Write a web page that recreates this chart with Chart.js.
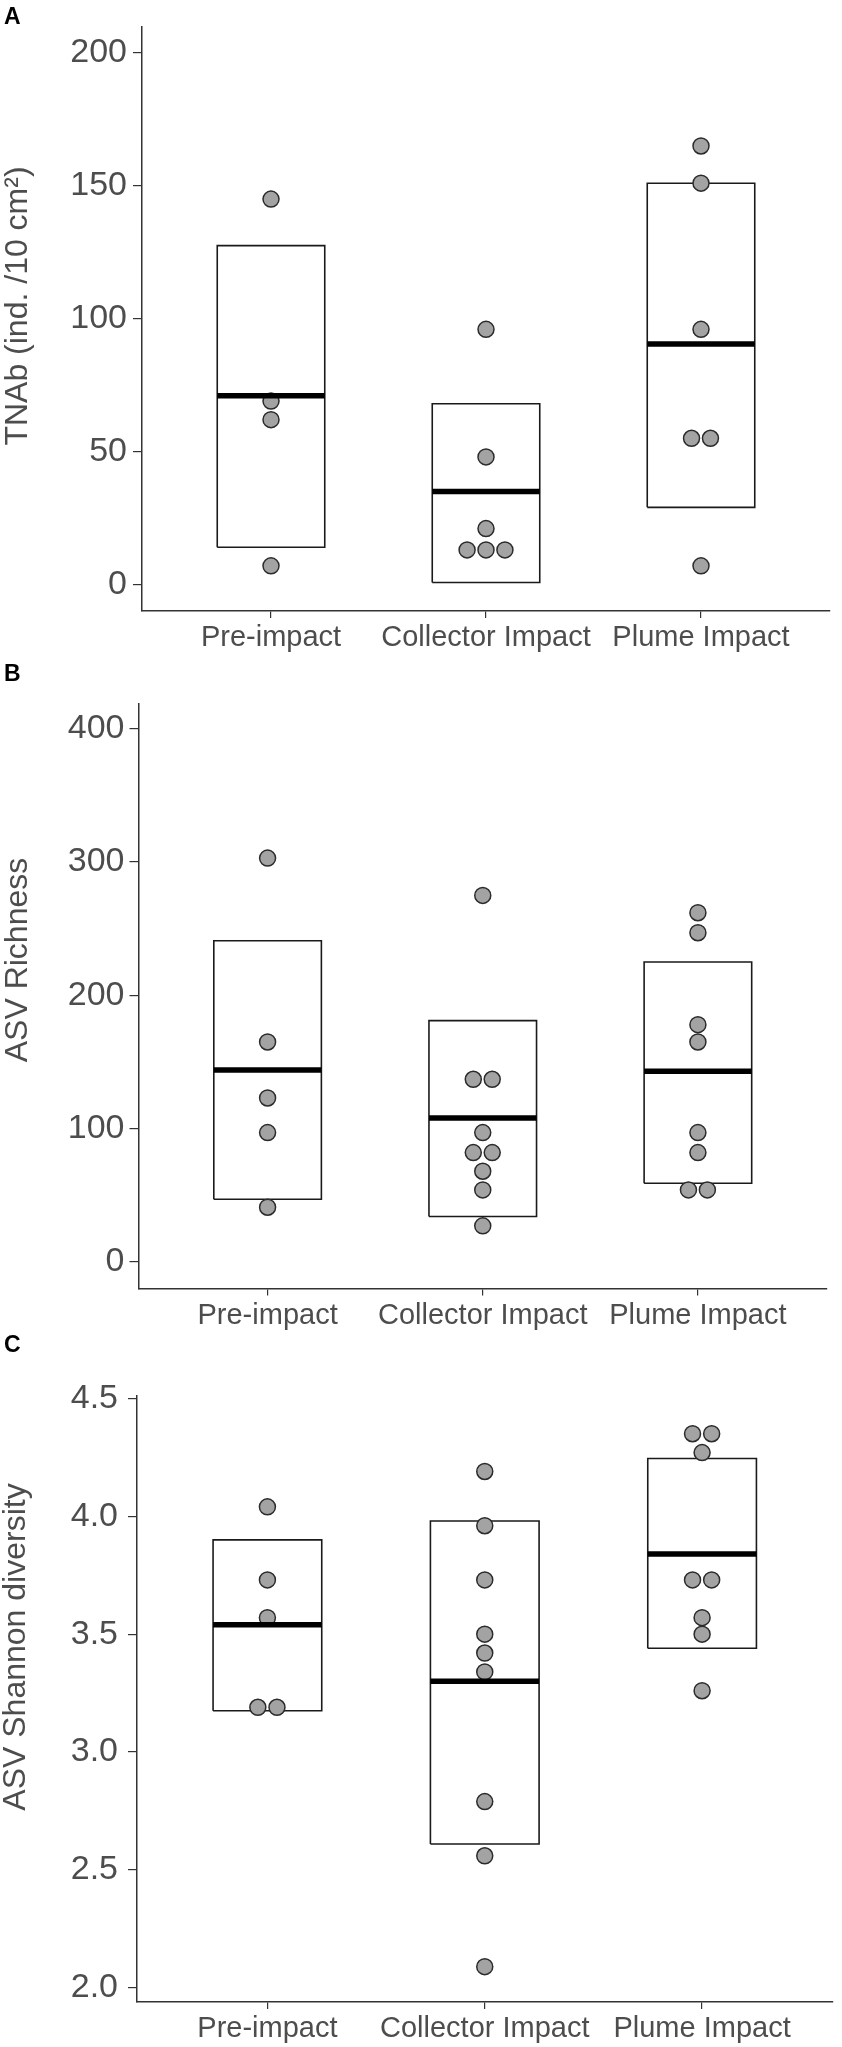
<!DOCTYPE html>
<html>
<head>
<meta charset="utf-8">
<title>TNAb, ASV richness and Shannon diversity</title>
<script src="https://cdn.jsdelivr.net/npm/chart.js@4.4.0/dist/chart.umd.min.js"></script>
<style>
  body { margin: 0; background: #fff; width: 842px; height: 2047px; position: relative; overflow: hidden; font-family: "Liberation Sans", Arial, sans-serif; }
  .panel { position: absolute; left: 0; width: 842px; }
  .tag { position: absolute; left: 4px; font-weight: bold; font-size: 23px; line-height: 1; color: #000; z-index: 5; }
</style>
</head>
<body>
<div class="panel" style="top:0px;height:680px"><canvas id="chartA"></canvas></div>
<div class="panel" style="top:660px;height:680px"><canvas id="chartB"></canvas></div>
<div class="panel" style="top:1330px;height:717px"><canvas id="chartC"></canvas></div>
<div class="tag" style="top:5px">A</div>
<div class="tag" style="top:662px">B</div>
<div class="tag" style="top:1333px">C</div>
<script>
const categories = ['Pre-impact', 'Collector Impact', 'Plume Impact'];

// A: total abundance, one value per sample
const tnabPre = [145, 69, 62, 7];
const tnabCollector = [96, 48, 21, 13, 13, 13];
const tnabPlume = [165, 151, 96, 55, 55, 7];
const tnabMean = [71, 35, 90.5];
const tnabLower = [14, 0.7, 29];
const tnabUpper = [127.5, 68, 151];
const tnabTicks = [0, 50, 100, 150, 200];

// B: ASV richness
const richPre = [303, 165, 123, 97, 41];
const richCollector = [275, 137, 137, 97, 82, 82, 68, 54, 27];
const richPlume = [262, 247, 178, 165, 97, 82, 54, 54];
const richMean = [144, 108, 143];
const richLower = [47, 34, 59];
const richUpper = [241, 181, 225];
const richTicks = [0, 100, 200, 300, 400];

// C: ASV Shannon diversity
const shanPre = [4.04, 3.73, 3.57, 3.19, 3.19];
const shanCollector = [4.19, 3.96, 3.73, 3.50, 3.42, 3.34, 2.79, 2.56, 2.09];
const shanPlume = [4.35, 4.35, 4.27, 3.73, 3.73, 3.57, 3.50, 3.26];
const shanMean = [3.54, 3.30, 3.84];
const shanLower = [3.175, 2.61, 3.44];
const shanUpper = [3.90, 3.98, 4.245];
const shanTicks = [2.0, 2.5, 3.0, 3.5, 4.0, 4.5];

const DOT_STEP = 0.088;   // horizontal spacing of stacked dots (x units)
const HALF_BOX = 0.25;
const TEXT = '#4d4d4d';
const AXIS = '#333';
const FONT = '"Liberation Sans", Arial, sans-serif';

// equal values sit side by side, centred on the category
function stackDots(values, cat) {
    const counts = {};
    values.forEach(v => counts[v] = (counts[v] || 0) + 1);
    const seen = {};
    return values.map(v => {
        const i = seen[v] = (seen[v] === undefined ? 0 : seen[v] + 1);
        return { x: cat + (i - (counts[v] - 1) / 2) * DOT_STEP, y: v };
    });
}

// rotated y title, placed like the ggplot original (not centred on the chart area)
const yTitlePlugin = {
    id: 'yTitle',
    afterDraw(chart, args, opts) {
        const ctx = chart.ctx;
        ctx.save();
        ctx.translate(opts.x, opts.y);
        ctx.rotate(-Math.PI / 2);
        ctx.font = `32px ${FONT}`;
        ctx.fillStyle = TEXT;
        ctx.textAlign = 'center';
        ctx.textBaseline = 'alphabetic';
        ctx.fillText(opts.text, 0, 0);
        ctx.restore();
    }
};

function makePanel(id, p) {
    const datasets = [];
    p.mean.forEach((m, i) => {
        const c = i + 1;
        datasets.push({
            data: [{ x: c - HALF_BOX, y: m }, { x: c + HALF_BOX, y: m }],
            showLine: true, pointRadius: 0, borderColor: '#000', borderWidth: 5.5,
            borderCapStyle: 'butt', order: 1
        });
        datasets.push({
            data: [
                { x: c - HALF_BOX, y: p.lower[i] }, { x: c + HALF_BOX, y: p.lower[i] },
                { x: c + HALF_BOX, y: p.upper[i] }, { x: c - HALF_BOX, y: p.upper[i] },
                { x: c - HALF_BOX, y: p.lower[i] }
            ],
            showLine: true, pointRadius: 0, borderColor: '#1a1a1a', borderWidth: 1.6,
            borderJoinStyle: 'miter', fill: false, order: 3
        });
    });
    p.groups.forEach((g, i) => {
        datasets.push({
            data: stackDots(g, i + 1),
            pointRadius: 8, pointBackgroundColor: '#a3a3a3', pointBorderColor: '#2b2b2b',
            pointBorderWidth: 1.5, showLine: false, order: 2
        });
    });

    new Chart(document.getElementById(id), {
        type: 'scatter',
        data: { datasets },
        plugins: [yTitlePlugin],
        options: {
            responsive: true,
            maintainAspectRatio: false,
            animation: false,
            layout: { padding: { top: p.top, right: 842 - p.right, left: 0, bottom: 0 } },
            plugins: {
                legend: { display: false },
                tooltip: { enabled: false },
                yTitle: { text: p.title, x: p.titleX, y: p.titleY }
            },
            scales: {
                x: {
                    type: 'linear', min: 0.4, max: 3.6,
                    afterBuildTicks: s => { s.ticks = [1, 2, 3].map(v => ({ value: v })); },
                    afterFit: s => { s.height = p.xHeight; },
                    ticks: {
                        callback: v => categories[v - 1], autoSkip: false, maxRotation: 0,
                        color: TEXT, padding: 3, font: { family: FONT, size: 29 }
                    },
                    grid: { drawOnChartArea: false, drawTicks: true, tickLength: 7, color: AXIS, lineWidth: 1.2 },
                    border: { display: true, color: AXIS, width: 1.5 }
                },
                y: {
                    min: p.yMin, max: p.yMax,
                    afterBuildTicks: s => { s.ticks = p.ticks.map(v => ({ value: v })); },
                    afterFit: s => { s.width = p.left; },
                    ticks: {
                        callback: v => v.toFixed(p.decimals), color: TEXT, padding: p.labelGap,
                        font: { family: FONT, size: 34 }
                    },
                    grid: { drawOnChartArea: false, drawTicks: true, tickLength: 9, color: AXIS, lineWidth: 1.2 },
                    border: { display: true, color: AXIS, width: 1.5 }
                }
            }
        }
    });
}

makePanel('chartA', {
    groups: [tnabPre, tnabCollector, tnabPlume], mean: tnabMean, lower: tnabLower, upper: tnabUpper,
    ticks: tnabTicks, yMin: -10, yMax: 210, decimals: 0, title: 'TNAb (ind. /10 cm²)',
    left: 142, right: 830, top: 26, xHeight: 69, titleX: 27, titleY: 306, labelGap: 6
});
makePanel('chartB', {
    groups: [richPre, richCollector, richPlume], mean: richMean, lower: richLower, upper: richUpper,
    ticks: richTicks, yMin: -20, yMax: 419, decimals: 0, title: 'ASV Richness',
    left: 138.5, right: 827, top: 43.5, xHeight: 51.5, titleX: 27, titleY: 300, labelGap: 5
});
makePanel('chartC', {
    groups: [shanPre, shanCollector, shanPlume], mean: shanMean, lower: shanLower, upper: shanUpper,
    ticks: shanTicks, yMin: 1.94, yMax: 4.51, decimals: 1, title: 'ASV Shannon diversity',
    left: 137, right: 838, top: 66, xHeight: 45, titleX: 25, titleY: 317, labelGap: 10
});
</script>
</body>
</html>
